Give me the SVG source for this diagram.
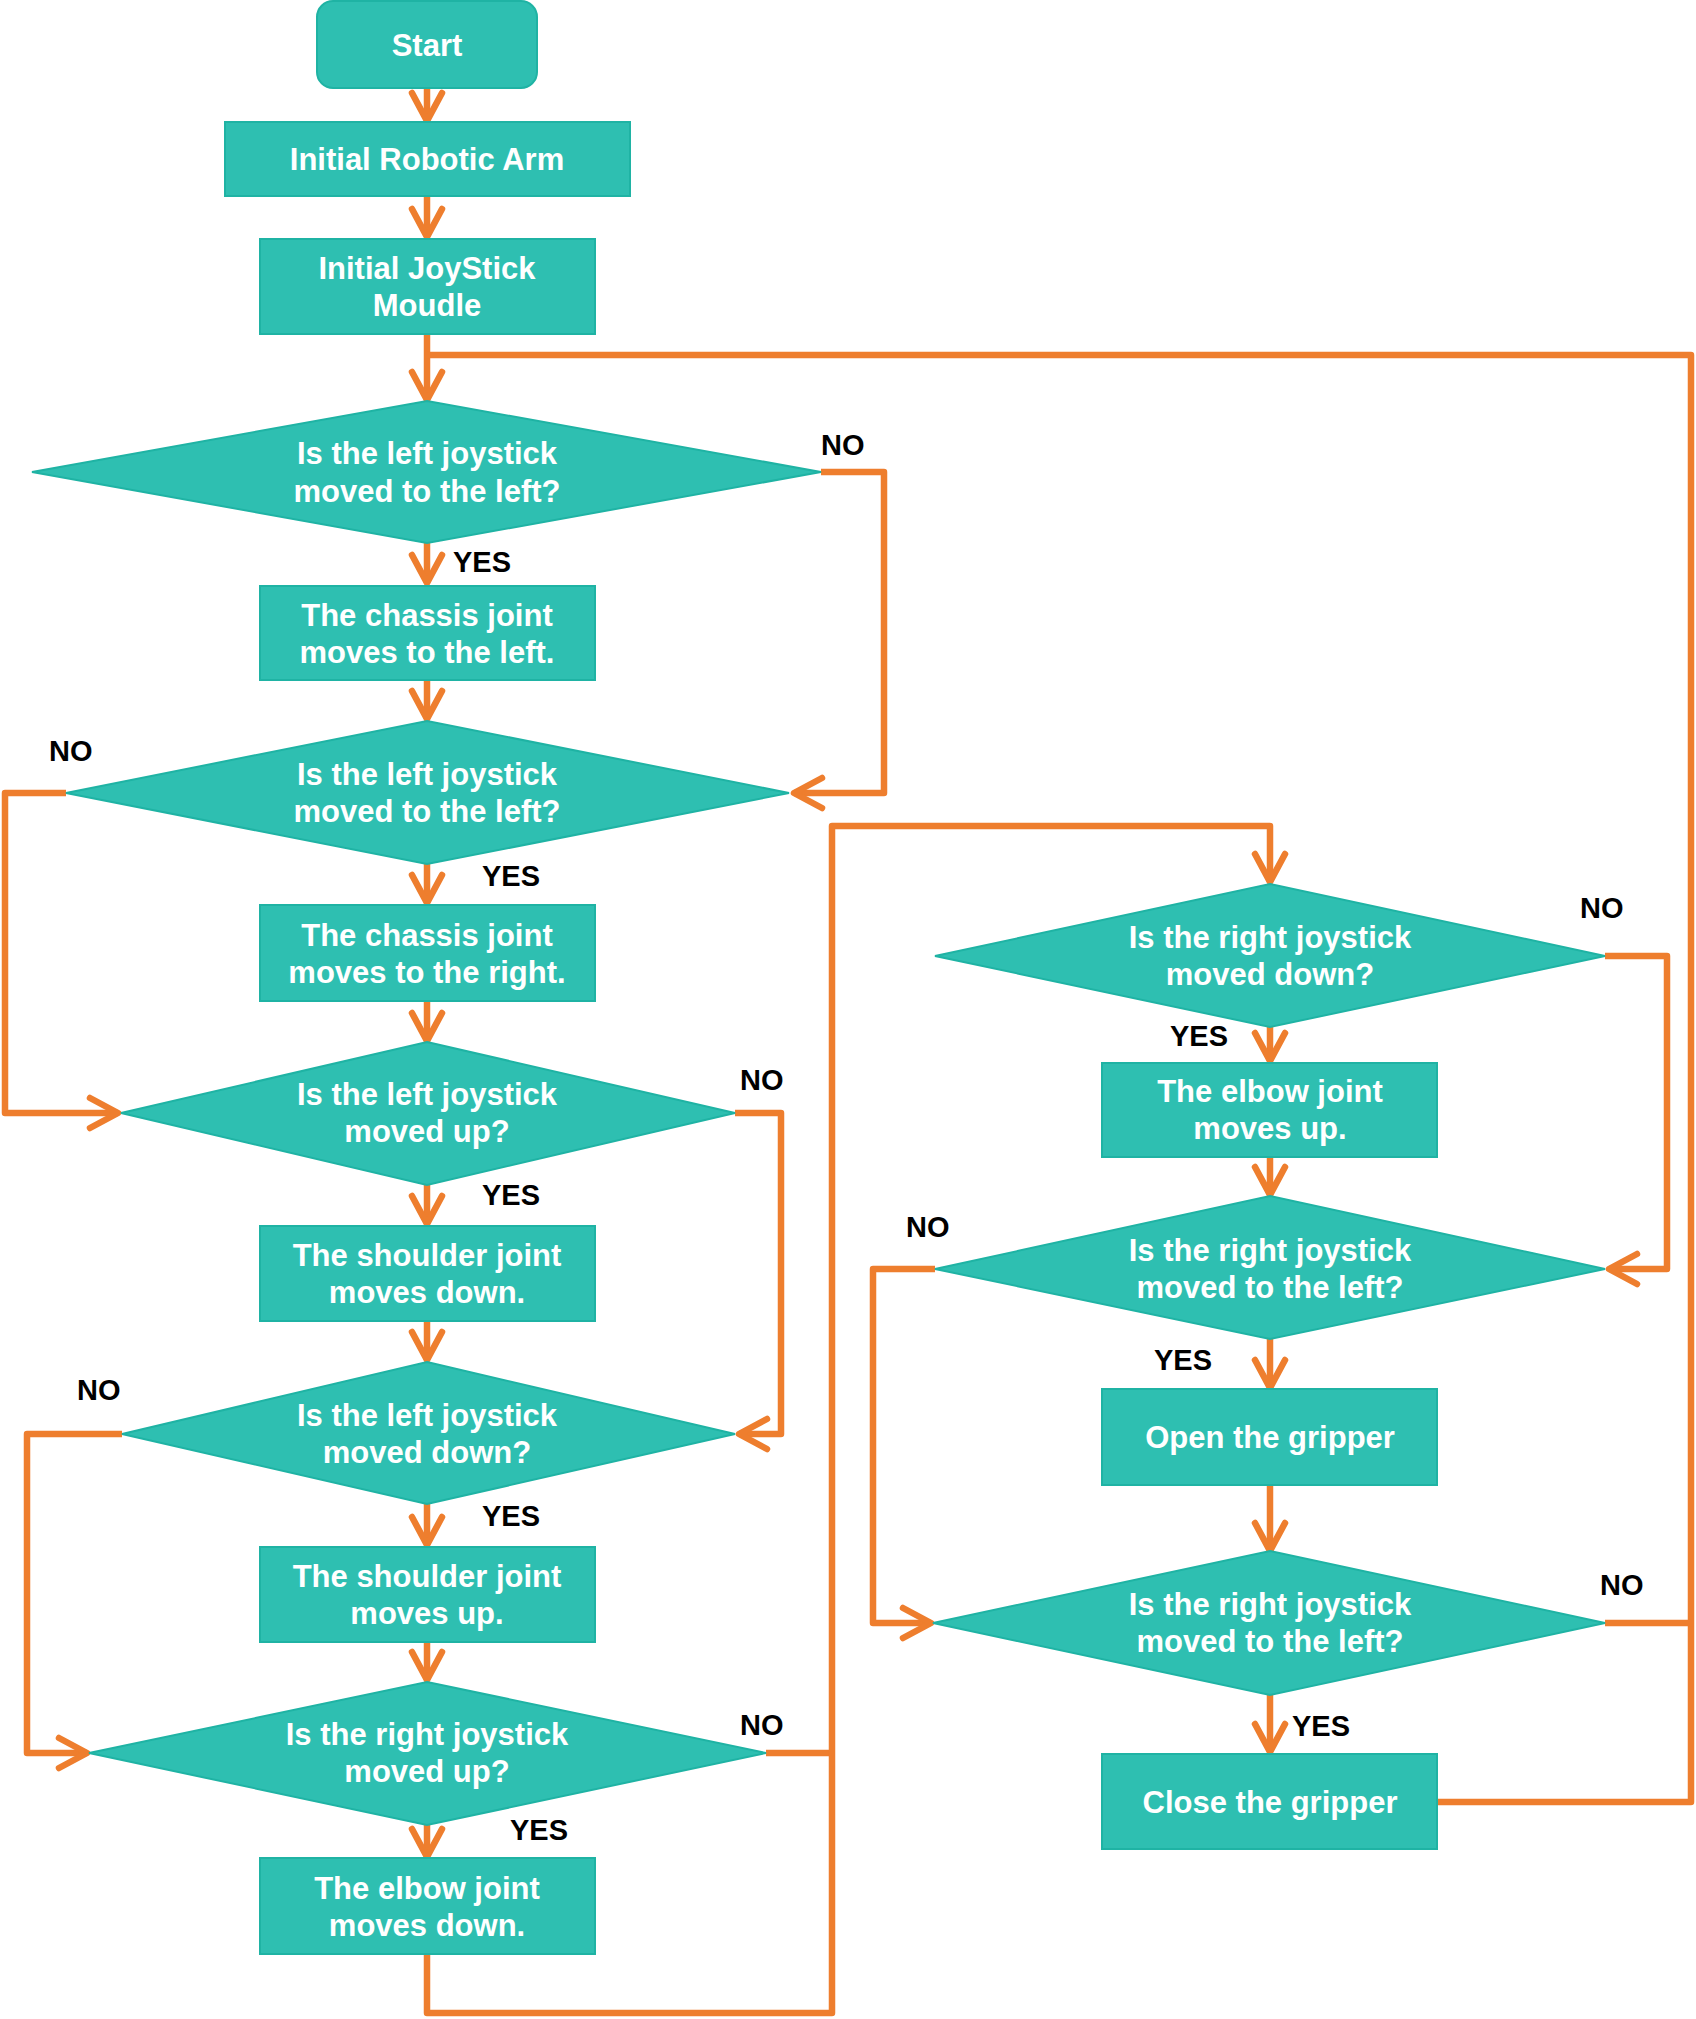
<svg xmlns="http://www.w3.org/2000/svg" width="1696" height="2019" viewBox="0 0 1696 2019">
<defs>
<style>
.node{fill:#2EBFB1;stroke:#1FB3A4;stroke-width:2}
.t{font-family:"Liberation Sans",Arial,sans-serif;font-weight:bold;font-size:31px;fill:#ffffff;text-anchor:middle}
.lbl{font-family:"Liberation Sans",Arial,sans-serif;font-weight:bold;font-size:29px;fill:#000000}
.c{fill:none;stroke:#EE7E2E;stroke-width:6.5;stroke-linejoin:round}
</style>
<marker id="arr" markerUnits="userSpaceOnUse" markerWidth="40" markerHeight="40" viewBox="-34 -20 40 40" refX="0" refY="0" orient="auto" overflow="visible">
<path d="M-28,-15 L0,0 L-28,15" fill="none" stroke="#EE7E2E" stroke-width="6.5" stroke-linecap="round" stroke-linejoin="round"/>
</marker>
</defs>
<rect width="1696" height="2019" fill="#ffffff"/>

<g id="connectors">
<path class="c" d="M427,88 V121" marker-end="url(#arr)"/>
<path class="c" d="M427,196 V237" marker-end="url(#arr)"/>
<path class="c" d="M427,334 V400" marker-end="url(#arr)"/>
<path class="c" d="M1437,1802 H1691 V355 H427"/>
<path class="c" d="M427,543 V583" marker-end="url(#arr)"/>
<path class="c" d="M821,472 H884 V793 H794" marker-end="url(#arr)"/>
<path class="c" d="M427,680 V719" marker-end="url(#arr)"/>
<path class="c" d="M66,793 H5 V1113 H118" marker-end="url(#arr)"/>
<path class="c" d="M427,864 V903" marker-end="url(#arr)"/>
<path class="c" d="M427,1001 V1041" marker-end="url(#arr)"/>
<path class="c" d="M735,1113 H781 V1434 H739" marker-end="url(#arr)"/>
<path class="c" d="M427,1185 V1224" marker-end="url(#arr)"/>
<path class="c" d="M427,1321 V1360" marker-end="url(#arr)"/>
<path class="c" d="M122,1434 H27 V1753 H87" marker-end="url(#arr)"/>
<path class="c" d="M427,1504 V1545" marker-end="url(#arr)"/>
<path class="c" d="M427,1642 V1680" marker-end="url(#arr)"/>
<path class="c" d="M766,1753 H832"/>
<path class="c" d="M427,1825 V1857" marker-end="url(#arr)"/>
<path class="c" d="M427,1954 V2013 H832 V826 H1270 V882" marker-end="url(#arr)"/>
<path class="c" d="M1270,1027 V1061" marker-end="url(#arr)"/>
<path class="c" d="M1605,956 H1667 V1269 H1609" marker-end="url(#arr)"/>
<path class="c" d="M1270,1157 V1195" marker-end="url(#arr)"/>
<path class="c" d="M935,1269 H873 V1623 H931" marker-end="url(#arr)"/>
<path class="c" d="M1270,1339 V1388" marker-end="url(#arr)"/>
<path class="c" d="M1270,1485 V1551" marker-end="url(#arr)"/>
<path class="c" d="M1605,1623 H1691"/>
<path class="c" d="M1270,1695 V1752" marker-end="url(#arr)"/>
</g>

<g id="start">
<rect class="node" x="317" y="1" width="220" height="87" rx="16"/>
<text class="t" x="427" y="56">Start</text>
</g>
<g id="init-arm">
<rect class="node" x="225" y="122" width="405" height="74"/>
<text class="t" x="427" y="170">Initial Robotic Arm</text>
</g>
<g id="init-joystick">
<rect class="node" x="260" y="239" width="335" height="95"/>
<text class="t" x="427" y="279">Initial JoyStick</text>
<text class="t" x="427" y="316">Moudle</text>
</g>
<g id="d1">
<polygon class="node" points="427,401 821,472 427,543 32,472"/>
<text class="t" x="427" y="464">Is the left joystick</text>
<text class="t" x="427" y="502">moved to the left?</text>
</g>
<g id="chassis-left">
<rect class="node" x="260" y="586" width="335" height="94"/>
<text class="t" x="427" y="626">The chassis joint</text>
<text class="t" x="427" y="663">moves to the left.</text>
</g>
<g id="d2">
<polygon class="node" points="427,721 789,793 427,864 66,793"/>
<text class="t" x="427" y="785">Is the left joystick</text>
<text class="t" x="427" y="822">moved to the left?</text>
</g>
<g id="chassis-right">
<rect class="node" x="260" y="905" width="335" height="96"/>
<text class="t" x="427" y="946">The chassis joint</text>
<text class="t" x="427" y="983">moves to the right.</text>
</g>
<g id="d3">
<polygon class="node" points="427,1042 735,1113 427,1185 121,1113"/>
<text class="t" x="427" y="1105">Is the left joystick</text>
<text class="t" x="427" y="1142">moved up?</text>
</g>
<g id="shoulder-down">
<rect class="node" x="260" y="1226" width="335" height="95"/>
<text class="t" x="427" y="1266">The shoulder joint</text>
<text class="t" x="427" y="1303">moves down.</text>
</g>
<g id="d4">
<polygon class="node" points="427,1362 735,1434 427,1504 122,1434"/>
<text class="t" x="427" y="1426">Is the left joystick</text>
<text class="t" x="427" y="1463">moved down?</text>
</g>
<g id="shoulder-up">
<rect class="node" x="260" y="1547" width="335" height="95"/>
<text class="t" x="427" y="1587">The shoulder joint</text>
<text class="t" x="427" y="1624">moves up.</text>
</g>
<g id="d5">
<polygon class="node" points="427,1682 766,1753 427,1825 89,1753"/>
<text class="t" x="427" y="1745">Is the right joystick</text>
<text class="t" x="427" y="1782">moved up?</text>
</g>
<g id="elbow-down">
<rect class="node" x="260" y="1858" width="335" height="96"/>
<text class="t" x="427" y="1899">The elbow joint</text>
<text class="t" x="427" y="1936">moves down.</text>
</g>
<g id="d6">
<polygon class="node" points="1270,884 1605,956 1270,1027 935,956"/>
<text class="t" x="1270" y="948">Is the right joystick</text>
<text class="t" x="1270" y="985">moved down?</text>
</g>
<g id="elbow-up">
<rect class="node" x="1102" y="1063" width="335" height="94"/>
<text class="t" x="1270" y="1102">The elbow joint</text>
<text class="t" x="1270" y="1139">moves up.</text>
</g>
<g id="d7">
<polygon class="node" points="1270,1196 1605,1269 1270,1339 935,1269"/>
<text class="t" x="1270" y="1261">Is the right joystick</text>
<text class="t" x="1270" y="1298">moved to the left?</text>
</g>
<g id="open-gripper">
<rect class="node" x="1102" y="1389" width="335" height="96"/>
<text class="t" x="1270" y="1448">Open the gripper</text>
</g>
<g id="d8">
<polygon class="node" points="1270,1551 1605,1623 1270,1695 933,1623"/>
<text class="t" x="1270" y="1615">Is the right joystick</text>
<text class="t" x="1270" y="1652">moved to the left?</text>
</g>
<g id="close-gripper">
<rect class="node" x="1102" y="1754" width="335" height="95"/>
<text class="t" x="1270" y="1813">Close the gripper</text>
</g>

<g id="labels">
<text class="lbl" x="821" y="455">NO</text>
<text class="lbl" x="453" y="572">YES</text>
<text class="lbl" x="49" y="761">NO</text>
<text class="lbl" x="482" y="886">YES</text>
<text class="lbl" x="740" y="1090">NO</text>
<text class="lbl" x="482" y="1205">YES</text>
<text class="lbl" x="77" y="1400">NO</text>
<text class="lbl" x="482" y="1526">YES</text>
<text class="lbl" x="740" y="1735">NO</text>
<text class="lbl" x="510" y="1840">YES</text>
<text class="lbl" x="1580" y="918">NO</text>
<text class="lbl" x="1170" y="1046">YES</text>
<text class="lbl" x="906" y="1237">NO</text>
<text class="lbl" x="1154" y="1370">YES</text>
<text class="lbl" x="1600" y="1595">NO</text>
<text class="lbl" x="1292" y="1736">YES</text>
</g>
</svg>
